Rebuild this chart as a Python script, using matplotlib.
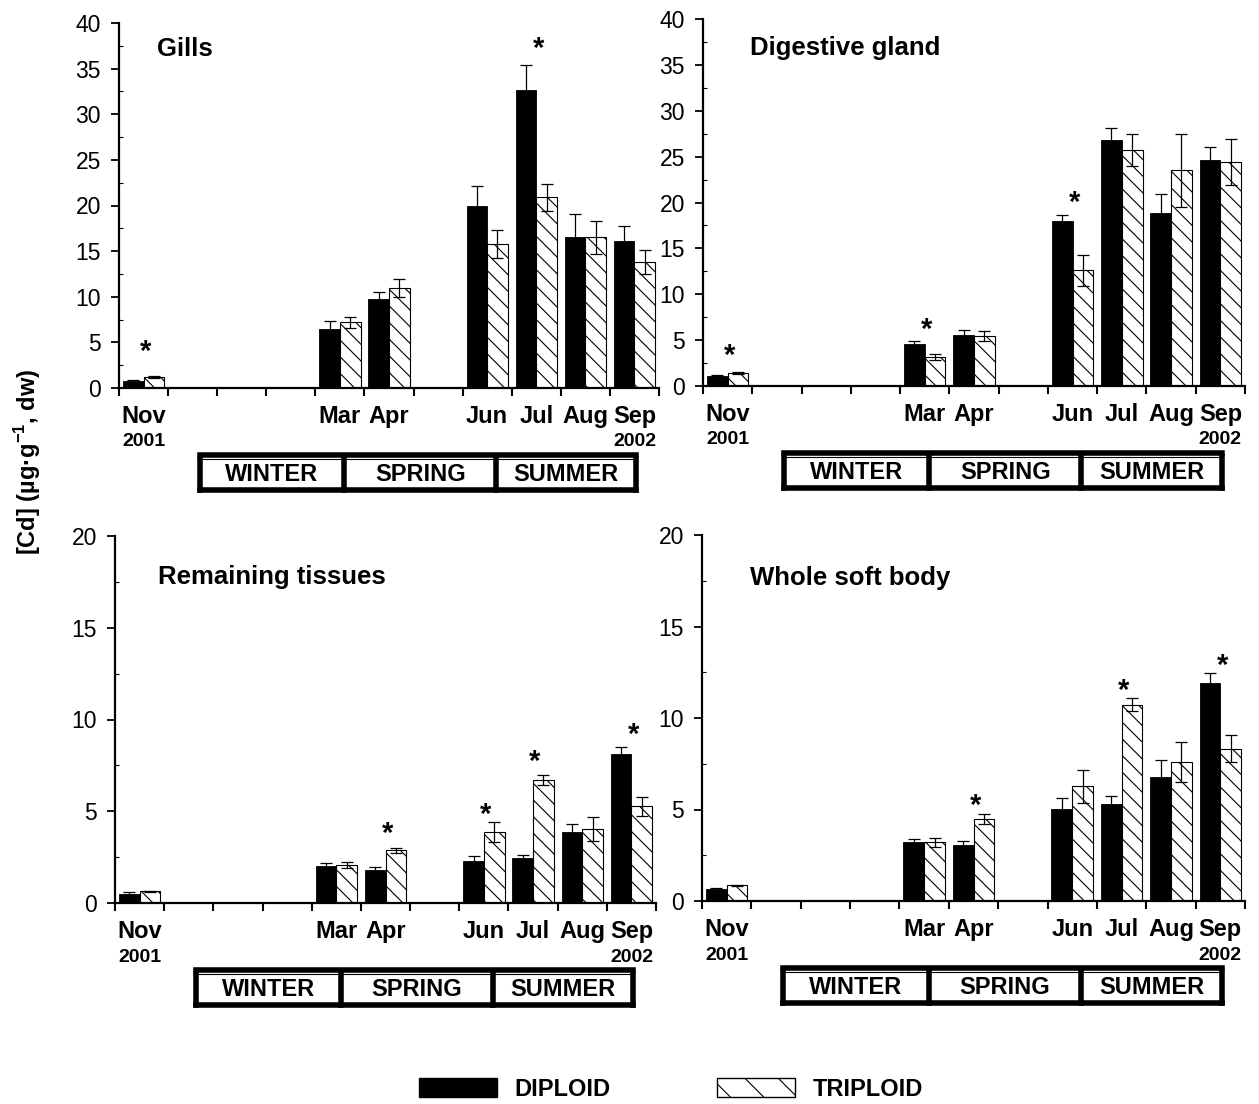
import numpy as np
import matplotlib
matplotlib.use('Agg')
import matplotlib.pyplot as plt
import matplotlib.transforms as mtransforms
from matplotlib.patches import Patch

plt.rcParams['font.family'] = ['Liberation Sans', 'DejaVu Sans']
plt.rcParams['hatch.linewidth'] = 0.8
plt.rcParams['mathtext.fontset'] = 'custom'
plt.rcParams['mathtext.bf'] = 'Liberation Sans:bold'
plt.rcParams['mathtext.rm'] = 'Liberation Sans'

nan = np.nan

# Months Nov 2001 .. Sep 2002 (Dec, Jan, Feb, May not sampled)
months = ['Nov', 'Dec', 'Jan', 'Feb', 'Mar', 'Apr', 'May', 'Jun', 'Jul', 'Aug', 'Sep']
month_labels = ['Nov', '', '', '', 'Mar', 'Apr', '', 'Jun', 'Jul', 'Aug', 'Sep']
seasons = ['WINTER', 'SPRING', 'SUMMER']

# Gills
gills_dip = [0.8, nan, nan, nan, 6.5, 9.8, nan, 20.0, 32.7, 16.5, 16.1]
gills_dip_err = [0.1, nan, nan, nan, 0.84, 0.7, nan, 2.1, 2.7, 2.55, 1.7]
gills_tri = [1.2, nan, nan, nan, 7.2, 10.95, nan, 15.8, 20.9, 16.5, 13.8]
gills_tri_err = [0.15, nan, nan, nan, 0.6, 0.95, nan, 1.5, 1.5, 1.8, 1.3]
gills_stars = [(0, 4.6), (8, 37.8)]

# Digestive gland
dg_dip = [1.13, nan, nan, nan, 4.58, 5.6, nan, 18.0, 26.8, 18.9, 24.6]
dg_dip_err = [0.05, nan, nan, nan, 0.29, 0.47, nan, 0.6, 1.3, 2.0, 1.5]
dg_tri = [1.38, nan, nan, nan, 3.13, 5.45, nan, 12.6, 25.7, 23.5, 24.4]
dg_tri_err = [0.1, nan, nan, nan, 0.32, 0.5, nan, 1.65, 1.75, 3.95, 2.5]
dg_stars = [(0, 3.9), (4, 6.8), (7, 20.6)]

# Remaining tissues
rt_dip = [0.51, nan, nan, nan, 2.03, 1.81, nan, 2.27, 2.45, 3.87, 8.13]
rt_dip_err = [0.09, nan, nan, nan, 0.15, 0.15, nan, 0.31, 0.18, 0.43, 0.35]
rt_tri = [0.64, nan, nan, nan, 2.07, 2.87, nan, 3.87, 6.7, 4.03, 5.26]
rt_tri_err = [0.04, nan, nan, nan, 0.16, 0.13, nan, 0.56, 0.27, 0.67, 0.53]
rt_stars = [(5, 4.1), (7, 5.1), (8, 8.0), (10, 9.5)]

# Whole soft body
wsb_dip = [0.67, nan, nan, nan, 3.22, 3.04, nan, 5.03, 5.32, 6.76, 11.93]
wsb_dip_err = [0.06, nan, nan, nan, 0.18, 0.24, nan, 0.6, 0.42, 0.93, 0.53]
wsb_tri = [0.86, nan, nan, nan, 3.2, 4.48, nan, 6.28, 10.73, 7.6, 8.32]
wsb_tri_err = [0.04, nan, nan, nan, 0.24, 0.27, nan, 0.9, 0.36, 1.11, 0.75]
wsb_stars = [(5, 5.5), (8, 11.8), (10, 13.15)]

W, H = 1259, 1104
fig = plt.figure(figsize=(W / 100, H / 100), dpi=100)

# axes rectangles in pixels (left, right, top, bottom) and title position
panels = [
    ('Gills', (119, 659, 23, 388), (0.071, 0.93), 40,
     gills_dip, gills_dip_err, gills_tri, gills_tri_err, gills_stars),
    ('Digestive gland', (703, 1245, 19, 386), (0.087, 0.921), 40,
     dg_dip, dg_dip_err, dg_tri, dg_tri_err, dg_stars),
    ('Remaining tissues', (115, 656, 536, 903), (0.079, 0.888), 20,
     rt_dip, rt_dip_err, rt_tri, rt_tri_err, rt_stars),
    ('Whole soft body', (702, 1245, 535, 901), (0.088, 0.882), 20,
     wsb_dip, wsb_dip_err, wsb_tri, wsb_tri_err, wsb_stars),
]

x = np.arange(len(months))
bw = 0.42

for title, (l, r, t, b), (tx, ty), ymax, dip, dip_err, tri, tri_err, stars in panels:
    ax = fig.add_axes([l / W, (H - b) / H, (r - l) / W, (b - t) / H])
    hpx = b - t
    dip = np.array(dip); tri = np.array(tri)
    dip_err = np.array(dip_err); tri_err = np.array(tri_err)
    m = ~np.isnan(dip)
    ax.bar(x[m] - bw / 2, dip[m], bw, color='black', edgecolor='black', linewidth=0.6)
    ax.bar(x[m] + bw / 2, tri[m], bw, color='white', edgecolor='black', linewidth=0.8,
           hatch='\\\\')
    ax.errorbar(x[m] - bw / 2, dip[m], yerr=dip_err[m], fmt='none', ecolor='black',
                elinewidth=0.9, capsize=4.5, capthick=0.9)
    ax.errorbar(x[m] + bw / 2, tri[m], yerr=tri_err[m], fmt='none', ecolor='black',
                elinewidth=0.9, capsize=4.5, capthick=0.9)
    star_tr = mtransforms.offset_copy(ax.transData, fig=fig, x=2, y=-6, units='dots')
    for i, ys in stars:
        ax.text(x[i], ys, '*', transform=star_tr, ha='center', va='center',
                fontsize=21, fontweight='bold')

    ax.set_xlim(-0.5, len(months) - 0.5)
    ax.set_ylim(0, ymax)
    ax.set_yticks(np.arange(0, ymax + 1, 5))
    ax.set_yticks(np.arange(0, ymax + 0.1, 2.5), minor=True)
    ax.tick_params(axis='y', which='major', labelsize=16.5, length=6, width=1.3,
                   direction='out', pad=7)
    ax.tick_params(axis='y', which='minor', length=3, width=0.8, direction='in')

    ax.set_xticks(x)
    ax.set_xticklabels(month_labels, fontsize=17, fontweight='bold')
    ax.set_xticks(np.arange(-0.5, len(months)), minor=True)
    ax.tick_params(axis='x', which='major', length=0, pad=12)
    ax.tick_params(axis='x', which='minor', length=6, width=1.5, direction='out')

    for s in ['top', 'right']:
        ax.spines[s].set_visible(False)
    for s in ['left', 'bottom']:
        ax.spines[s].set_linewidth(1.6)

    ax.text(tx, ty, title, transform=ax.transAxes, fontsize=18.5, fontweight='bold',
            ha='left', va='center')

    tr = ax.get_xaxis_transform()
    ax.text(x[0], -54 / hpx, '2001', transform=tr, ha='center', va='center',
            fontsize=14, fontweight='bold')
    ax.text(x[-1], -54 / hpx, '2002', transform=tr, ha='center', va='center',
            fontsize=14, fontweight='bold')

    # season box: thick top rule, then a framed row of three cells
    bx0, bx1 = 1.14, 10.03
    divs = [bx0, 4.09, 7.18, bx1]
    yt, yb = -67 / hpx, -102 / hpx
    yi = yt - 4 / hpx
    box_kw = dict(transform=tr, color='black', linewidth=4, clip_on=False,
                  solid_capstyle='projecting')
    ax.plot([bx0, bx1], [yt, yt], **box_kw)
    ax.plot([bx0, bx1], [yb, yb], **box_kw)
    ax.plot([bx0, bx0], [yi, yb], **box_kw)
    ax.plot([bx1, bx1], [yi, yb], **box_kw)
    ax.plot([bx0, bx1], [yi, yi], transform=tr, color='black', linewidth=0.8,
            clip_on=False)
    for d in divs[1:-1]:
        ax.plot([d, d], [yi, yb], **box_kw)
    for k, sname in enumerate(seasons):
        ax.text((divs[k] + divs[k + 1]) / 2, (yi + yb) / 2, sname, transform=tr,
                ha='center', va='center', fontsize=17, fontweight='bold')

fig.text(0.0215, 1 - 462 / H, r'[Cd] (µg·g$^{\mathbf{-1}}$, dw)', rotation=90,
         ha='center', va='center', fontsize=17, fontweight='bold')

handles = [Patch(facecolor='black', edgecolor='black', label='DIPLOID'),
           Patch(facecolor='white', edgecolor='black', hatch='\\', label='TRIPLOID')]
leg = fig.legend(handles=handles, loc='center', bbox_to_anchor=(0.533, 1 - 1089 / H),
                 ncol=2, frameon=False, handlelength=3.3, handleheight=0.9,
                 handletextpad=0.75, columnspacing=4.5,
                 prop={'size': 17, 'weight': 'bold'})

fig.savefig('out.png', dpi=100)
